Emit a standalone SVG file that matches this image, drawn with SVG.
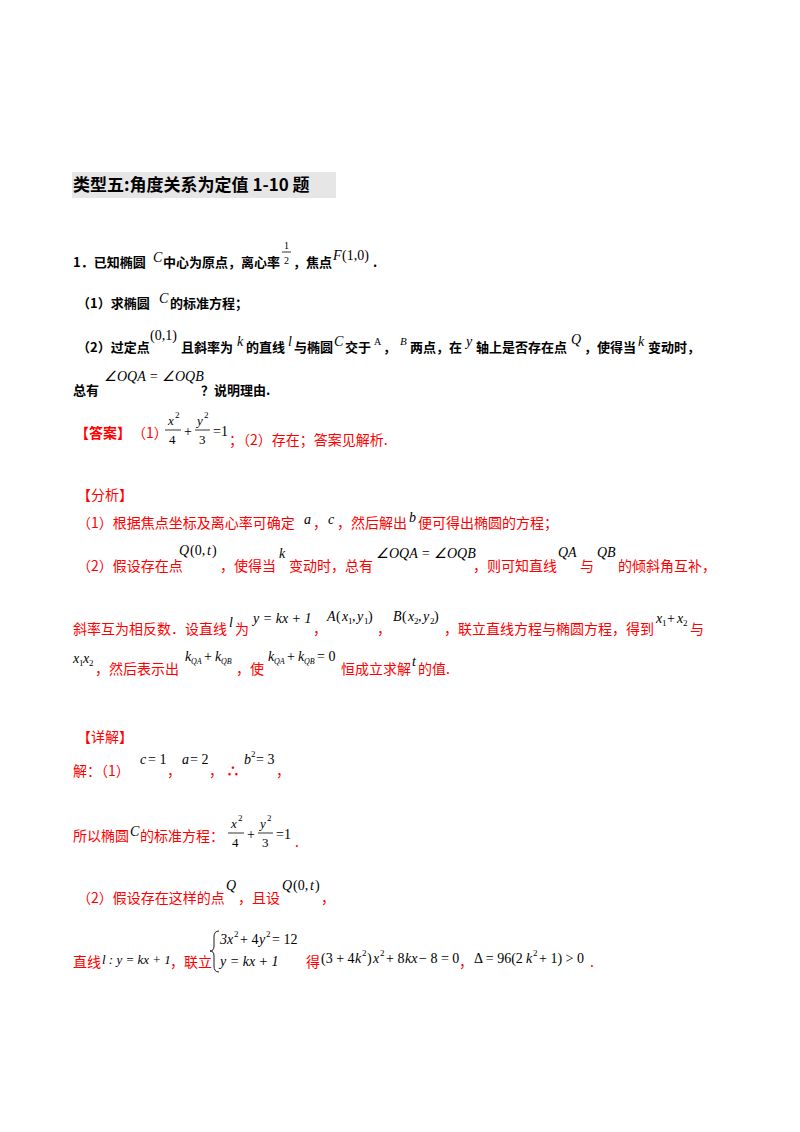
<svg xmlns="http://www.w3.org/2000/svg" width="800" height="1132" viewBox="0 0 800 1132">
<style>
.b{font-family:"Noto Sans CJK SC","Liberation Sans",sans-serif;font-size:13px;font-weight:bold;fill:#000}
.r{font-family:"Noto Sans CJK SC","Liberation Sans",sans-serif;font-size:14px;fill:#f00}
.rb{font-family:"Noto Sans CJK SC",sans-serif;font-size:14px;font-weight:bold;fill:#f00}
.m{font-family:"Liberation Serif",serif;font-size:14px;fill:#000}
.mi{font-family:"Liberation Serif",serif;font-size:14px;font-style:italic;fill:#000}
.s{font-family:"Liberation Serif",serif;font-size:9px;fill:#000}
.si{font-family:"Liberation Serif",serif;font-size:8px;font-style:italic;fill:#000}
.fl{stroke:#000;stroke-width:0.8}
</style>
<rect width="800" height="1132" fill="#fff"/>
<rect x="72" y="172" width="264" height="26" fill="#e6e6e6"/>
<text x="73" y="191" font-family="Noto Sans CJK SC,sans-serif" font-size="17" font-weight="bold">类型五:角度关系为定值 1-10 题</text>

<text class="b" x="73" y="267">1．已知椭圆</text><text class="mi" x="153" y="262">C</text>
<text class="b" x="163" y="267">中心为原点，离心率</text>
<text class="m" x="284" y="249" style="font-size:10px">1</text><line class="fl" x1="282" y1="252" x2="291" y2="252"/><text class="m" x="284" y="264" style="font-size:10px">2</text>
<text class="b" x="293" y="267">，焦点</text><text class="mi" x="333" y="260">F</text><text class="m" x="342" y="260">(1,0)</text><text class="b" x="373" y="267">.</text>

<text class="b" x="77" y="308">（1）求椭圆</text><text class="mi" x="159" y="303">C</text><text class="b" x="170" y="308">的标准方程；</text>

<text class="b" x="77" y="352">（2）过定点</text><text class="m" x="150" y="340">(0,1)</text>
<text class="b" x="181" y="352">且斜率为</text><text class="mi" x="237" y="346">k</text>
<text class="b" x="246" y="352">的直线</text><text class="mi" x="288" y="346">l</text>
<text class="b" x="294" y="352">与椭圆</text><text class="mi" x="334" y="346">C</text>
<text class="b" x="345" y="352">交于</text><text class="m" x="374" y="345" style="font-size:10px">A</text>
<text class="b" x="383" y="352">，</text><text class="mi" x="400" y="345" style="font-size:11px">B</text>
<text class="b" x="410" y="352">两点，在</text><text class="mi" x="466" y="346">y</text>
<text class="b" x="476" y="352">轴上是否存在点</text><text class="mi" x="571" y="344">Q</text>
<text class="b" x="584" y="352">，使得当</text><text class="mi" x="638" y="346">k</text>
<text class="b" x="648" y="352">变动时，</text>

<text class="b" x="73" y="395">总有</text><text class="mi" x="104" y="381">∠OQA = ∠OQB</text>
<text class="b" x="201" y="395">？说明理由.</text>

<text class="rb" x="75" y="438">【答案】</text><text class="r" x="132" y="438">（1）</text>
<text class="mi" x="168" y="425" style="font-size:13px">x</text><text class="s" x="175" y="418">2</text><line class="fl" x1="165" y1="430" x2="181" y2="430"/><text class="m" x="169" y="444" style="font-size:13px">4</text>
<text class="m" x="184" y="436">+</text>
<text class="mi" x="197" y="425" style="font-size:13px">y</text><text class="s" x="204" y="418">2</text><line class="fl" x1="195" y1="430" x2="210" y2="430"/><text class="m" x="199" y="444" style="font-size:13px">3</text>
<text class="m" x="213" y="436">=1</text>
<text class="r" x="229" y="445">；（2）存在；答案见解析.</text>

<text class="r" x="77" y="500">【分析】</text>
<text class="r" x="77" y="528">（1）根据焦点坐标及离心率可确定</text><text class="mi" x="304" y="524">a</text>
<text class="r" x="313" y="528">，</text><text class="mi" x="328" y="524">c</text>
<text class="r" x="337" y="528">，然后解出</text><text class="mi" x="409" y="522">b</text>
<text class="r" x="418" y="528">便可得出椭圆的方程；</text>

<text class="r" x="77" y="571">（2）假设存在点</text><text class="mi" x="179" y="555">Q</text><text class="m" x="190" y="555">(0,</text><text class="mi" x="207" y="555">t</text><text class="m" x="212" y="555">)</text>
<text class="r" x="220" y="571">，使得当</text><text class="mi" x="279" y="558">k</text>
<text class="r" x="289" y="571">变动时，总有</text><text class="mi" x="376" y="558">∠OQA = ∠OQB</text>
<text class="r" x="473" y="571">，则可知直线</text><text class="mi" x="558" y="557">QA</text>
<text class="r" x="580" y="571">与</text><text class="mi" x="597" y="557">QB</text>
<text class="r" x="618" y="571">的倾斜角互补，</text>

<text class="r" x="73" y="634">斜率互为相反数．设直线</text><text class="mi" x="229" y="627">l</text>
<text class="r" x="235" y="634">为</text><text class="mi" x="253" y="623">y = kx + 1</text>
<text class="r" x="313" y="634">，</text><text class="mi" x="327" y="621">A</text><text class="m" x="336" y="621">(</text><text class="mi" x="342" y="621">x</text><text class="s" x="348" y="624">1</text><text class="m" x="352" y="621">,</text><text class="mi" x="357" y="621">y</text><text class="s" x="364" y="624">1</text><text class="m" x="368" y="621">)</text>
<text class="r" x="377" y="634">，</text><text class="mi" x="393" y="621">B</text><text class="m" x="402" y="621">(</text><text class="mi" x="408" y="621">x</text><text class="s" x="414" y="624">2</text><text class="m" x="418" y="621">,</text><text class="mi" x="423" y="621">y</text><text class="s" x="430" y="624">2</text><text class="m" x="434" y="621">)</text>
<text class="r" x="444" y="634">，联立直线方程与椭圆方程，得到</text><text class="mi" x="656" y="623">x</text><text class="s" x="662" y="626">1</text><text class="m" x="667" y="623">+</text><text class="mi" x="677" y="623">x</text><text class="s" x="683" y="626">2</text>
<text class="r" x="690" y="634">与</text>

<text class="mi" x="73" y="663">x</text><text class="s" x="79" y="666">1</text><text class="mi" x="83" y="663">x</text><text class="s" x="89" y="666">2</text>
<text class="r" x="95" y="674">，然后表示出</text><text class="mi" x="185" y="661">k</text><text class="si" x="191" y="664">QA</text><text class="m" x="204" y="661">+</text><text class="mi" x="215" y="661">k</text><text class="si" x="221" y="664">QB</text>
<text class="r" x="236" y="674">，使</text><text class="mi" x="268" y="661">k</text><text class="si" x="274" y="664">QA</text><text class="m" x="287" y="661">+</text><text class="mi" x="298" y="661">k</text><text class="si" x="304" y="664">QB</text><text class="m" x="317" y="661">= 0</text>
<text class="r" x="341" y="674">恒成立求解</text><text class="mi" x="412" y="666">t</text><text class="r" x="418" y="674">的值.</text>

<text class="r" x="77" y="742">【详解】</text>
<text class="r" x="73" y="776">解：（1）</text><text class="mi" x="140" y="764">c</text><text class="m" x="148" y="764">= 1</text>
<text class="r" x="167" y="776">，</text><text class="mi" x="182" y="764">a</text><text class="m" x="190" y="764">= 2</text>
<text class="r" x="209" y="776">，</text><text class="rb" x="226" y="776">∴</text>
<text class="mi" x="244" y="764">b</text><text class="s" x="251" y="757">2</text><text class="m" x="256" y="764">= 3</text><text class="r" x="276" y="776">，</text>

<text class="r" x="73" y="841">所以椭圆</text><text class="mi" x="130" y="836">C</text><text class="r" x="140" y="841">的标准方程：</text>
<text class="mi" x="231" y="828" style="font-size:13px">x</text><text class="s" x="238" y="821">2</text><line class="fl" x1="228" y1="833" x2="244" y2="833"/><text class="m" x="232" y="847" style="font-size:13px">4</text>
<text class="m" x="247" y="839">+</text>
<text class="mi" x="260" y="828" style="font-size:13px">y</text><text class="s" x="267" y="821">2</text><line class="fl" x1="258" y1="833" x2="273" y2="833"/><text class="m" x="262" y="847" style="font-size:13px">3</text>
<text class="m" x="276" y="839">=1</text><text class="r" x="295" y="847">.</text>

<text class="r" x="77" y="903">（2）假设存在这样的点</text><text class="mi" x="226" y="890">Q</text>
<text class="r" x="238" y="903">，且设</text><text class="mi" x="282" y="890">Q</text><text class="m" x="293" y="890">(0,</text><text class="mi" x="310" y="890">t</text><text class="m" x="315" y="890">)</text><text class="r" x="321" y="903">，</text>

<text class="r" x="73" y="967">直线</text><text class="mi" x="102" y="964" style="font-size:13px">l : y = kx + 1</text>
<text class="r" x="170" y="967">，联立</text>
<path d="M219 931 Q214 931 214 937 L214 946 Q214 951 210 951 Q214 951 214 956 L214 966 Q214 972 219 972" fill="none" stroke="#000" stroke-width="0.9"/>
<text class="mi" x="220" y="944">3x</text><text class="s" x="234" y="937">2</text><text class="m" x="240" y="944">+ 4</text><text class="mi" x="259" y="944">y</text><text class="s" x="266" y="937">2</text><text class="m" x="272" y="944">= 12</text>
<text class="mi" x="220" y="966">y = kx + 1</text>
<text class="r" x="306" y="967">得</text>
<text class="m" x="321" y="963">(3 + 4</text><text class="mi" x="355" y="963">k</text><text class="s" x="362" y="956">2</text><text class="m" x="367" y="963">)</text><text class="mi" x="373" y="963">x</text><text class="s" x="380" y="956">2</text><text class="m" x="386" y="963">+ 8</text><text class="mi" x="405" y="963">kx</text><text class="m" x="419" y="963">− 8 = 0</text>
<text class="r" x="459" y="967">，</text>
<text class="m" x="474" y="963">Δ = 96(2</text><text class="mi" x="526" y="963">k</text><text class="s" x="533" y="956">2</text><text class="m" x="539" y="963">+ 1) &gt; 0</text><text class="r" x="590" y="967">.</text>
</svg>
